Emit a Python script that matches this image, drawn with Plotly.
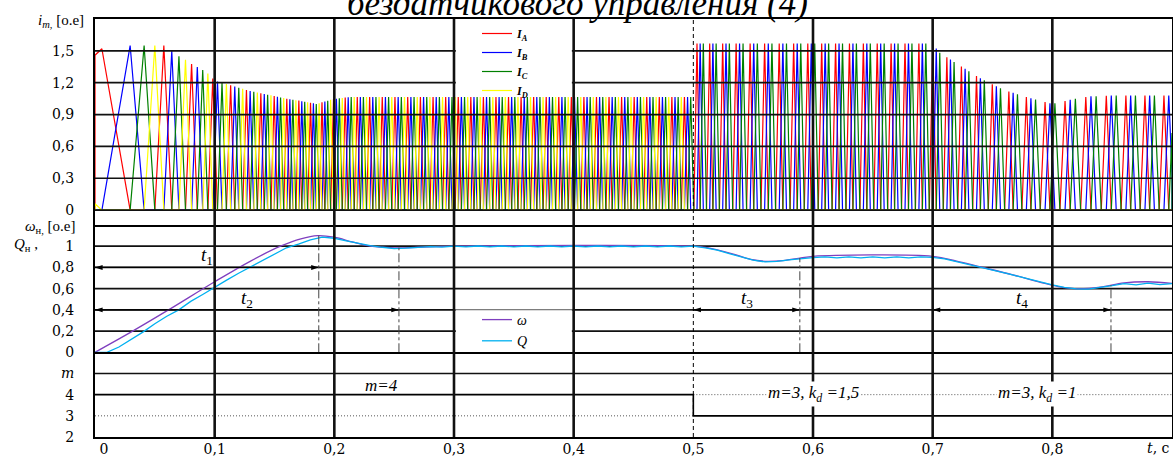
import numpy as np
import plotly.graph_objects as go
from plotly.subplots import make_subplots

# ---------------- data ----------------
# rotor speed omega (o.e.)
omega_t = [0, 0.03, 0.06, 0.10, 0.13, 0.155, 0.172, 0.186, 0.20, 0.215, 0.23, 0.25, 0.27, 0.30,
           0.50, 0.51, 0.52, 0.535, 0.548, 0.56, 0.575, 0.59, 0.60, 0.70, 0.72, 0.74, 0.767,
           0.79, 0.805, 0.822, 0.84, 0.86, 0.88, 0.90]
omega_v = [0, 0.19, 0.39, 0.665, 0.86, 1.0, 1.07, 1.10, 1.085, 1.04, 1.0, 0.985, 0.99, 1.0,
           1.0, 0.99, 0.965, 0.92, 0.875, 0.858, 0.865, 0.89, 0.905, 0.905, 0.86, 0.805, 0.73,
           0.66, 0.62, 0.60, 0.615, 0.655, 0.665, 0.65]

# estimated speed Q (o.e.), sampled every 0.01 s
q_t = [i / 100 for i in range(91)]
q_v = [0.0, 0.0, 0.05, 0.12, 0.19, 0.27, 0.34, 0.40, 0.48, 0.545,
       0.615, 0.68, 0.745, 0.805, 0.87, 0.925, 0.985, 1.02, 1.06, 1.085,
       1.075, 1.05, 1.025, 1.005, 0.99, 0.978, 0.982, 0.99, 0.997, 0.992,
       1.0, 0.994, 1.002, 0.994, 1.002, 0.994, 1.002, 0.994, 1.002, 0.994,
       1.002, 0.994, 1.002, 0.994, 1.002, 0.994, 1.002, 0.994, 1.002, 0.994,
       1.0, 0.985, 0.963, 0.93, 0.90, 0.868, 0.852, 0.858, 0.872, 0.885,
       0.893, 0.90, 0.89, 0.90, 0.89, 0.90, 0.89, 0.90, 0.89, 0.90,
       0.895, 0.88, 0.855, 0.83, 0.80, 0.775, 0.748, 0.72, 0.692, 0.66,
       0.635, 0.612, 0.598, 0.595, 0.61, 0.628, 0.648, 0.636, 0.652, 0.638,
       0.648]

# peak envelope of the phase currents (o.e.)
env_t = [0.0, 0.006, 0.012, 0.02, 0.029, 0.04, 0.05, 0.0575, 0.064, 0.07, 0.075, 0.08,
         0.085, 0.09, 0.095, 0.10, 0.115, 0.13, 0.143, 0.16, 0.171, 0.185, 0.199, 0.213,
         0.25, 0.4999, 0.5001, 0.6999, 0.705, 0.72, 0.74, 0.76, 0.78, 0.80, 0.815, 0.83,
         0.85, 0.90]
env_v = [1.52, 1.52, 1.45, 1.38, 1.55, 1.55, 1.55, 1.55, 1.50, 1.45, 1.42, 1.38,
         1.35, 1.32, 1.28, 1.22, 1.17, 1.12, 1.09, 1.05, 1.03, 1.0, 1.045, 1.065,
         1.065, 1.065, 1.57, 1.57, 1.49, 1.38, 1.24, 1.13, 1.06, 1.0, 1.04, 1.07,
         1.08, 1.08]

phase_names = ["A", "B", "C", "D"]
phase_colors = ["#FF0000", "#0000FF", "#008000", "#FFFF00"]
phase_peak_pos = [0.01, 0.26, 0.51, 0.76]   # peak position within electrical period
period_nominal = 0.0105                       # electrical period per phase at omega = 1 (s)

# number of active phases
m_t = [0, 0.5, 0.9]
m_v = [4, 3, 3]

# time intervals t1..t4
t_start = [0.0, 0.0, 0.5, 0.7]
t_end = [0.187, 0.254, 0.589, 0.849]
t_arrow_y = [0.8, 0.4, 0.4, 0.4]

x_ticks = [0, 0.1, 0.2, 0.3, 0.4, 0.5, 0.6, 0.7, 0.8]
x_ticktext = ["\u00a0\u00a0\u00a0\u00a00", "0,1", "0,2", "0,3", "0,4", "0,5", "0,6", "0,7", "0,8"]
i_ticks = [0, 0.3, 0.6, 0.9, 1.2, 1.5]
i_ticktext = ["0", "0,3", "0,6", "0,9", "1,2", "1,5"]
w_ticks = [0, 0.2, 0.4, 0.6, 0.8, 1.0]
w_ticktext = ["0", "0,2", "0,4", "0,6", "0,8", "1"]
m_ticks = [2, 3, 4, 5]
m_ticktext = ["2", "3", "4", "<i>m</i>"]

# ---------------- build phase-current polylines ----------------
T_END = 0.9
tg = np.linspace(0, T_END, 90001)
wg = np.interp(tg, omega_t, omega_v)
theta = np.concatenate([[0], np.cumsum((wg[1:] + wg[:-1]) / 2 * np.diff(tg))]) / period_nominal
theta = theta + np.arange(len(theta)) * 1e-12
th_max = theta[-1]


def m_at(t):
    return m_v[0] if t < m_t[1] else m_v[1]


def phase_curve(k):
    xs, ys = [0.0], [0.0]
    off = phase_peak_pos[k]
    for n in range(-1, int(th_max) + 2):
        pk = n + off
        a, b = pk - 0.25, pk + 0.25
        if b <= 0 or a >= th_max:
            continue
        tp = float(np.interp(min(max(pk, 0), th_max), theta, tg))
        if k >= m_at(tp):
            continue
        amp = float(np.interp(tp, env_t, env_v))
        pts = [(a, 0.0), (pk, amp), (b, 0.0)]
        out = []
        for j, (th, v) in enumerate(pts):
            if th < 0:
                nxt = pts[j + 1]
                frac = (0 - th) / (nxt[0] - th)
                if frac <= 1:
                    out.append((0.0, v + (nxt[1] - v) * frac))
                continue
            if th > th_max:
                prv = pts[j - 1]
                if prv[0] <= th_max:
                    frac = (th_max - prv[0]) / (th - prv[0])
                    out.append((th_max, prv[1] + (v - prv[1]) * frac))
                break
            out.append((th, v))
        for th, v in out:
            xs.append(float(np.interp(th, theta, tg)))
            ys.append(v)
    xs.append(T_END)
    ys.append(0.0)
    return xs, ys


# ---------------- figure ----------------
fig = make_subplots(rows=3, cols=1, shared_xaxes=True, vertical_spacing=0)

for k in range(4):
    xs, ys = phase_curve(k)
    fig.add_trace(go.Scatter(
        x=xs, y=ys, mode="lines", line=dict(color=phase_colors[k], width=1.2),
        name="<b><i>I</i></b><sub><b><i>%s</i></b></sub>" % phase_names[k],
        legend="legend"), row=1, col=1)

fig.add_trace(go.Scatter(x=omega_t, y=omega_v, mode="lines", line=dict(color="#7F3FBF", width=1.3),
                         name="<i>ω</i>", legend="legend2", line_shape="spline"), row=2, col=1)
fig.add_trace(go.Scatter(x=q_t, y=q_v, mode="lines", line=dict(color="#00B0F0", width=1.3),
                         name="<i>Q</i>", legend="legend2"), row=2, col=1)

# double-headed arrows for t1..t4
for ts, te, ay in zip(t_start, t_end, t_arrow_y):
    fig.add_trace(go.Scatter(x=[ts, te], y=[ay, ay], mode="lines+markers",
                             line=dict(color="black", width=1.2),
                             marker=dict(symbol="arrow", size=8, color="black", angle=[-90, 90]),
                             showlegend=False, hoverinfo="skip"), row=2, col=1)

fig.add_trace(go.Scatter(x=m_t, y=m_v, mode="lines", line=dict(color="black", width=1.6, shape="hv"),
                         showlegend=False), row=3, col=1)

# ---------------- shapes ----------------
shapes = []
GRID = "#111111"
for v in i_ticks:
    shapes.append(dict(type="line", xref="x", yref="y", x0=0, x1=T_END, y0=v, y1=v,
                       line=dict(color=GRID, width=1.7), layer="above"))
# white legend cell (top panel)
shapes.append(dict(type="rect", xref="x", yref="y", x0=0.3015, x1=0.3985, y0=1.1, y1=1.8,
                   fillcolor="white", line=dict(width=0), layer="above"))
for v in w_ticks[1:]:
    shapes.append(dict(type="line", xref="x2", yref="y2", x0=0, x1=T_END, y0=v, y1=v,
                       line=dict(color=GRID, width=1.7), layer="below"))
# white legend cell (speed panel)
shapes.append(dict(type="rect", xref="x2", yref="y2", x0=0.3015, x1=0.3985, y0=0.0, y1=0.4,
                   fillcolor="white", line=dict(width=0), layer="below"))
shapes.append(dict(type="line", xref="x2", yref="y2", x0=0.3, x1=0.4, y0=0.4, y1=0.4,
                   line=dict(color="#9a9a9a", width=1), layer="below"))
# m panel grid & dotted alternative levels
shapes.append(dict(type="line", xref="x3", yref="y3", x0=0, x1=T_END, y0=5, y1=5,
                   line=dict(color=GRID, width=1.7), layer="above"))
shapes.append(dict(type="line", xref="x3", yref="y3", x0=m_t[0], x1=m_t[1], y0=m_v[1], y1=m_v[1],
                   line=dict(color="#555555", width=1, dash="1px,2px"), layer="below"))
shapes.append(dict(type="line", xref="x3", yref="y3", x0=m_t[1], x1=m_t[2], y0=m_v[0], y1=m_v[0],
                   line=dict(color="#555555", width=1, dash="1px,2px"), layer="below"))
# vertical grid lines through all panels
for xv in x_ticks[1:]:
    if xv == 0.5:
        shapes.append(dict(type="line", xref="x3", yref="paper", x0=xv, x1=xv, y0=0, y1=1,
                           line=dict(color="black", width=1, dash="4px,3px"), layer="above"))
    else:
        shapes.append(dict(type="line", xref="x3", yref="paper", x0=xv, x1=xv, y0=0, y1=1,
                           line=dict(color=GRID, width=2.6), layer="above"))
# dash-dot markers at the end of t1..t4
for te in t_end:
    top = float(np.interp(te, omega_t, omega_v))
    shapes.append(dict(type="line", xref="x2", yref="y2", x0=te, x1=te, y0=0, y1=top,
                       line=dict(color="#444444", width=1, dash="dashdot"), layer="above"))

# ---------------- annotations ----------------
ann = []
SERIF = "Liberation Serif"
for i, (ts, te, ay) in enumerate(zip(t_start, t_end, t_arrow_y)):
    ann.append(dict(x=(ts + te) / 2, y=ay, xref="x2", yref="y2", showarrow=False,
                    text="<i>t</i><sub>%d</sub>" % (i + 1), yshift=11,
                    font=dict(family=SERIF, size=19, color="black")))

ann.append(dict(x=0.239, y=4.45, xref="x3", yref="y3", showarrow=False, text="<i>m=4</i>",
                font=dict(family=SERIF, size=17, color="black")))
ann.append(dict(x=0.6, y=4.05, xref="x3", yref="y3", showarrow=False,
                text="<i>m=3, k</i><sub><i>d</i></sub><i> =1,5</i>", bgcolor="white",
                font=dict(family=SERIF, size=17, color="black")))
ann.append(dict(x=0.787, y=4.05, xref="x3", yref="y3", showarrow=False,
                text="<i>m=3, k</i><sub><i>d</i></sub><i> =1</i>", bgcolor="white",
                font=dict(family=SERIF, size=17, color="black")))

PLOT_L, PLOT_W, PLOT_T, PLOT_H = 95, 1077, 19, 418


def px(xp):
    return (xp - PLOT_L) / PLOT_W


def py(yp):
    return 1 - (yp - PLOT_T) / PLOT_H


ann.append(dict(x=px(86), y=py(21), xref="paper", yref="paper", xanchor="right", yanchor="middle",
                showarrow=False, text="<i>i</i><sub><i>m</i>,</sub> [o.e]",
                font=dict(family=SERIF, size=15, color="black")))
ann.append(dict(x=px(78), y=py(227), xref="paper", yref="paper", xanchor="right", yanchor="middle",
                showarrow=False, text="<i>ω</i><sub>н,</sub> [o.e]",
                font=dict(family=SERIF, size=15, color="black")))
ann.append(dict(x=px(12), y=py(245), xref="paper", yref="paper", xanchor="left", yanchor="middle",
                showarrow=False, text="<i>Q</i><sub>н</sub> ,",
                font=dict(family=SERIF, size=15, color="black")))
ann.append(dict(x=px(1158), y=py(448), xref="paper", yref="paper", xanchor="center", yanchor="middle",
                showarrow=False, text="<i>t</i>, c",
                font=dict(family="DejaVu Serif", size=14, color="black")))
ann.append(dict(x=px(577), y=py(3), xref="paper", yref="paper", xanchor="center", yanchor="middle",
                showarrow=False, text="<i>бездатчикового управления (4)</i>",
                font=dict(family=SERIF, size=35, color="black")))

# ---------------- layout ----------------
tickfont = dict(family="DejaVu Serif", size=14, color="black")
line_common = dict(showgrid=False, zeroline=False, showline=True,
                   linecolor="black", linewidth=2, ticks="", ticklen=0)
fig.update_layout(
    width=1173, height=457,
    margin=dict(l=PLOT_L, r=1, t=PLOT_T, b=20, autoexpand=False),
    paper_bgcolor="white", plot_bgcolor="white",
    shapes=shapes, annotations=ann,
    legend=dict(x=px(477), y=1.0, xanchor="left", yanchor="top", bgcolor="rgba(0,0,0,0)",
                font=dict(family=SERIF, size=12, color="black"), tracegroupgap=0, itemwidth=30),
    legend2=dict(x=px(477), y=py(304), xanchor="left", yanchor="top", bgcolor="rgba(0,0,0,0)",
                 font=dict(family=SERIF, size=14, color="black"), tracegroupgap=0, itemwidth=30),
    yaxis=dict(domain=[0.5072, 1.0], range=[-0.14, 1.8], tickvals=i_ticks, ticktext=i_ticktext,
               tickfont=tickfont, ticklabelstandoff=16, mirror=True, **line_common),
    yaxis2=dict(domain=[0.2026, 0.5072], range=[0, 1.2], tickvals=w_ticks, ticktext=w_ticktext,
                tickfont=tickfont, ticklabelstandoff=16, mirror=True, **line_common),
    yaxis3=dict(domain=[0.0, 0.2026], range=[2, 6], tickvals=m_ticks, ticktext=m_ticktext,
                tickfont=tickfont, ticklabelstandoff=16, mirror=True, **line_common),
    xaxis=dict(range=[0, T_END], showticklabels=False, mirror=True, **line_common),
    xaxis2=dict(range=[0, T_END], showticklabels=False, mirror=False, **line_common),
    xaxis3=dict(range=[0, T_END], tickvals=x_ticks, ticktext=x_ticktext, tickfont=tickfont,
                ticklabelstandoff=-2, mirror=False, **line_common),
)

fig.write_html("out.html", config={"displayModeBar": False},
               post_script="document.body.style.margin='0px';")
